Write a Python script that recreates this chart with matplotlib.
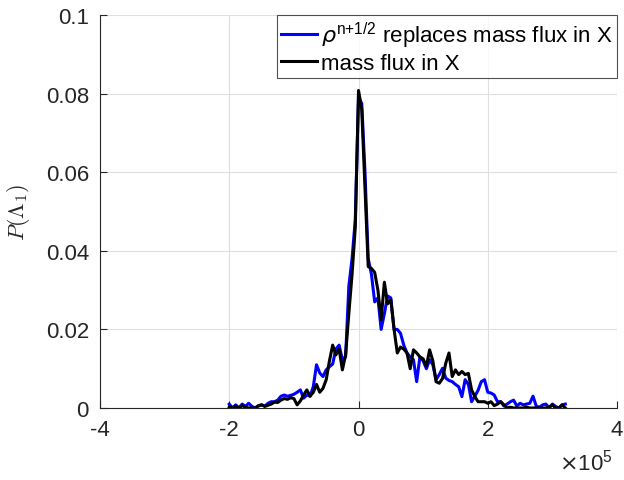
import numpy as np
import matplotlib

matplotlib.use("Agg")
import matplotlib.pyplot as plt

# bin centres, units of 1e5
bin_centres = np.round(np.arange(-2.0, 3.2001, 0.05), 2)

mass_flux_x = [
    0.0003, 0.0000, 0.0005, 0.0000, 0.0006, 0.0002, 0.0000, 0.0000, 0.0000, 0.0005,
    0.0008, 0.0004, 0.0007, 0.0010, 0.0015, 0.0014, 0.0020, 0.0024, 0.0022, 0.0026,
    0.0024, 0.0008, 0.0018, 0.0033, 0.0046, 0.0030, 0.0040, 0.0060, 0.0040, 0.0050,
    0.0072, 0.0120, 0.0160, 0.0135, 0.0150, 0.0097, 0.0135, 0.0240, 0.0340, 0.0460,
    0.0808, 0.0760, 0.0560, 0.0360, 0.0355, 0.0345, 0.0300, 0.0225, 0.0320, 0.0265,
    0.0275, 0.0200, 0.0140, 0.0155, 0.0150, 0.0140, 0.0100, 0.0148, 0.0140, 0.0130,
    0.0125, 0.0106, 0.0148, 0.0120, 0.0067, 0.0063, 0.0075, 0.0114, 0.0140, 0.0080,
    0.0097, 0.0085, 0.0093, 0.0085, 0.0088, 0.0046, 0.0029, 0.0016, 0.0016, 0.0016,
    0.0012, 0.0016, 0.0006, 0.0010, 0.0016, 0.0008, 0.0000, 0.0002, 0.0000, 0.0000,
    0.0000, 0.0000, 0.0002, 0.0000, 0.0000, 0.0000, 0.0000, 0.0000, 0.0000, 0.0002,
    0.0008, 0.0000, 0.0000, 0.0008, 0.0000,
]

rho_half_x = [
    0.0010, 0.0000, 0.0008, 0.0000, 0.0010, 0.0004, 0.0012, 0.0004, 0.0000, 0.0006,
    0.0008, 0.0005, 0.0012, 0.0016, 0.0016, 0.0020, 0.0030, 0.0033, 0.0030, 0.0032,
    0.0035, 0.0040, 0.0046, 0.0025, 0.0033, 0.0030, 0.0054, 0.0110, 0.0089, 0.0080,
    0.0097, 0.0105, 0.0112, 0.0150, 0.0160, 0.0123, 0.0130, 0.0310, 0.0380, 0.0480,
    0.0790, 0.0775, 0.0600, 0.0380, 0.0340, 0.0270, 0.0280, 0.0200, 0.0240, 0.0285,
    0.0280, 0.0200, 0.0200, 0.0190, 0.0160, 0.0140, 0.0130, 0.0123, 0.0067, 0.0130,
    0.0120, 0.0100, 0.0123, 0.0110, 0.0072, 0.0085, 0.0101, 0.0076, 0.0070, 0.0067,
    0.0060, 0.0054, 0.0029, 0.0072, 0.0060, 0.0016, 0.0030, 0.0045, 0.0067, 0.0072,
    0.0040, 0.0038, 0.0033, 0.0016, 0.0016, 0.0005, 0.0010, 0.0016, 0.0020, 0.0005,
    0.0012, 0.0008, 0.0010, 0.0012, 0.0030, 0.0005, 0.0002, 0.0008, 0.0010, 0.0000,
    0.0010, 0.0004, 0.0000, 0.0008, 0.0010,
]

series_labels = [r"$\rho^{\mathregular{n{+}1/2}}$ replaces mass flux in X", "mass flux in X"]
x_ticks = [-4, -2, 0, 2, 4]
y_ticks = [0, 0.02, 0.04, 0.06, 0.08, 0.1]
y_tick_labels = ["0", "0.02", "0.04", "0.06", "0.08", "0.1"]

plt.rcParams["font.family"] = ["Liberation Sans", "DejaVu Sans"]
text_color = "#262626"

fig = plt.figure(figsize=(6.24, 4.81), dpi=100)
ax = fig.add_axes([0.1603, 0.1497, 0.8285, 0.817])

ax.plot(bin_centres, rho_half_x, color="#0000ff", linewidth=2.2, label=series_labels[0])
ax.plot(bin_centres, mass_flux_x, color="black", linewidth=2.2, label=series_labels[1])

ax.set_xlim(-4, 4)
ax.set_ylim(0, 0.1)
ax.set_xticks(x_ticks, labels=[str(t) for t in x_ticks])
ax.set_yticks(y_ticks, labels=y_tick_labels)
ax.tick_params(direction="in", length=5, width=0.8, colors=text_color,
               labelsize=16, pad=8)
ax.grid(True, color="#dfdfdf", linewidth=0.8)
ax.set_axisbelow(True)
for side in ("top", "right"):
    ax.spines[side].set_visible(False)
for side in ("left", "bottom"):
    ax.spines[side].set_color(text_color)
    ax.spines[side].set_linewidth(0.8)

ax.set_ylabel(r"$P(\Lambda_1)$", fontsize=16, color=text_color, math_fontfamily="cm")
ax.yaxis.set_label_coords(-0.1315, 0.5)

# exponent marker under the x axis, bottom right
fig.text(0.982, 0.012, r"$\times\mathregular{10^{5}}$", ha="right",
         va="bottom", fontsize=16, color=text_color)

leg = ax.legend(loc="upper right", borderaxespad=0, fontsize=16, frameon=True,
                fancybox=False, edgecolor=text_color, handlelength=1.6,
                handletextpad=0.2, borderpad=0.2, labelspacing=0.15)
leg.get_frame().set_linewidth(0.8)
for t in leg.get_texts():
    t.set_color("black")

fig.savefig("out.png", dpi=100)
